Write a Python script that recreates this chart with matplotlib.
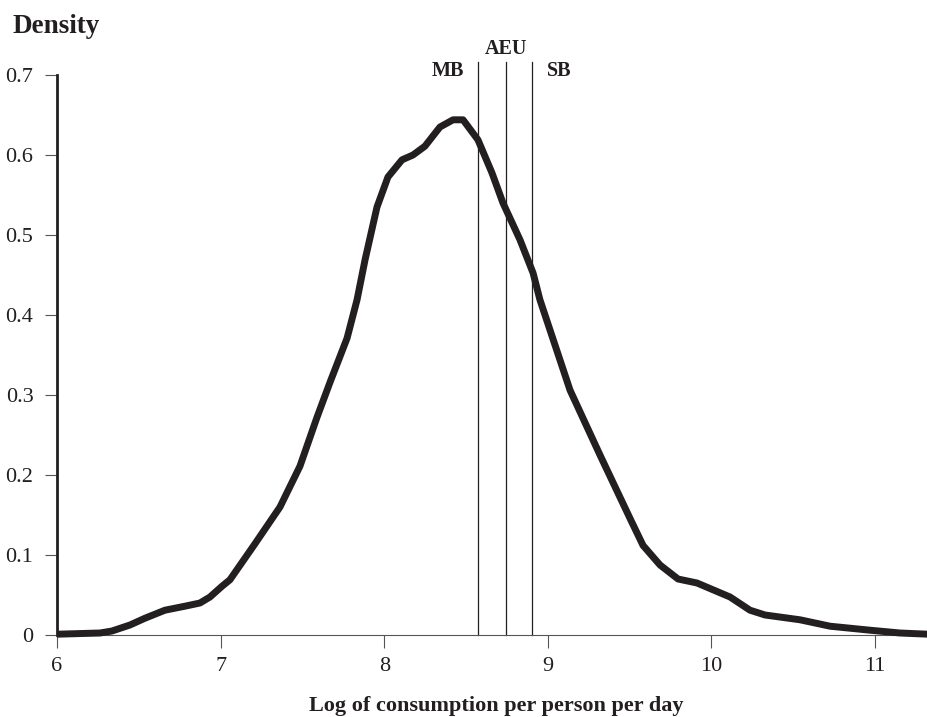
import numpy as np
import matplotlib.pyplot as plt
from matplotlib.ticker import FuncFormatter

# log consumption grid and estimated density
log_cons = [6.00, 6.263, 6.336, 6.446, 6.538, 6.660, 6.782, 6.874, 6.935, 7.009,
            7.057, 7.210, 7.363, 7.485, 7.589, 7.669, 7.773, 7.834, 7.883, 7.956,
            8.023, 8.109, 8.176, 8.249, 8.341, 8.421, 8.482, 8.573, 8.659, 8.726,
            8.830, 8.910, 8.952, 9.044, 9.136, 9.319, 9.502, 9.582, 9.686, 9.796,
            9.912, 10.114, 10.236, 10.328, 10.542, 10.725, 10.969, 11.153, 11.324]
density = [0.001, 0.0025, 0.005, 0.0125, 0.021, 0.031, 0.036, 0.040, 0.0475, 0.061,
           0.069, 0.114, 0.160, 0.211, 0.272, 0.316, 0.371, 0.419, 0.469, 0.535,
           0.5725, 0.594, 0.600, 0.611, 0.635, 0.644, 0.644, 0.619, 0.5775, 0.540,
           0.494, 0.4525, 0.419, 0.3625, 0.306, 0.225, 0.146, 0.112, 0.0875, 0.070,
           0.065, 0.0475, 0.031, 0.025, 0.019, 0.011, 0.006, 0.0025, 0.001]

# poverty lines
line_names = ['MB', 'AEU', 'SB']
line_values = [8.573, 8.745, 8.904]

x_ticks = [6, 7, 8, 9, 10, 11]
y_ticks = [0, 0.1, 0.2, 0.3, 0.4, 0.5, 0.6, 0.7]

plt.rcParams['font.family'] = ['Liberation Serif', 'DejaVu Serif']
ink = '#231f20'

fig = plt.figure(figsize=(9.28, 7.17), dpi=100)
ax = fig.add_axes([57 / 928, 82 / 717, 871 / 928, 560 / 717])

ax.plot(log_cons, density, color=ink, lw=5, solid_joinstyle='round',
        solid_capstyle='butt', clip_on=False, zorder=3)

for v in line_values:
    ax.plot([v, v], [0, 0.7165], color=ink, lw=0.9, clip_on=False, zorder=2)

ax.text(line_values[0] - 0.085, 0.705, line_names[0], ha='right', va='center',
        fontsize=14.5, fontweight='bold', color=ink)
ax.text(line_values[1], 0.7325, line_names[1], ha='center', va='center',
        fontsize=14.5, fontweight='bold', color=ink)
ax.text(line_values[2] + 0.09, 0.705, line_names[2], ha='left', va='center',
        fontsize=14.5, fontweight='bold', color=ink)

ax.set_xlim(6, 11.324)
ax.set_ylim(0, 0.7)
ax.set_xticks(x_ticks)
ax.set_yticks(y_ticks)
ax.yaxis.set_major_formatter(FuncFormatter(lambda v, p: '0' if v == 0 else f'{v:.1f}'))

ax.spines['top'].set_visible(False)
ax.spines['right'].set_visible(False)
ax.spines['left'].set_linewidth(2)
ax.spines['left'].set_color(ink)
ax.spines['bottom'].set_linewidth(0.8)
ax.spines['bottom'].set_color('#555555')
ax.tick_params(axis='both', direction='out', length=9, width=0.8, color='#555555',
               labelsize=16, labelcolor=ink)
ax.tick_params(axis='y', pad=8)
ax.tick_params(axis='x', pad=7)

fig.text(13 / 928, 1 - 33 / 717, 'Density', ha='left', va='baseline',
         fontsize=19.5, fontweight='bold', color=ink)
fig.text(496 / 928, 1 - 711 / 717, 'Log of consumption per person per day',
         ha='center', va='baseline', fontsize=16, fontweight='bold', color=ink)

fig.savefig('out.png', dpi=100)
